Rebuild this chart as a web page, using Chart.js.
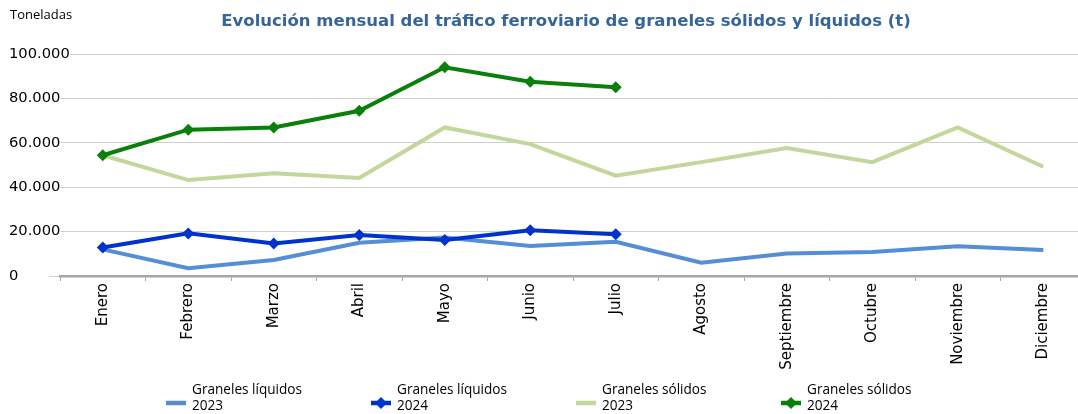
<!DOCTYPE html>
<html>
<head>
<meta charset="utf-8">
<script src="https://cdn.jsdelivr.net/npm/chart.js@4.4.1/dist/chart.umd.min.js"></script>
<style>
  html, body { margin: 0; padding: 0; background: #fff; }
  #wrap { width: 1078px; height: 414px; overflow: hidden; }
  #box { width: 1092px; height: 414px; position: relative; }
</style>
</head>
<body>
<div id="wrap"><div id="box"><canvas id="trafico"></canvas></div></div>
<script>
const meses = ['Enero', 'Febrero', 'Marzo', 'Abril', 'Mayo', 'Junio', 'Julio',
  'Agosto', 'Septiembre', 'Octubre', 'Noviembre', 'Diciembre'];

// toneladas por mes
const liquidos2023 = [12000, 3500, 7200, 15000, 17300, 13500, 15400, 6000, 10100, 10800, 13400, 11700];
const liquidos2024 = [12800, 19200, 14600, 18500, 16200, 20600, 18800];
const solidos2023 = [54400, 43200, 46300, 44200, 66900, 59400, 45200, 51300, 57700, 51300, 66900, 49200];
const solidos2024 = [54400, 65900, 66900, 74400, 94000, 87500, 85000];

const yTicks = [0, 20000, 40000, 60000, 80000, 100000];
const series = ['Graneles líquidos 2023', 'Graneles líquidos 2024', 'Graneles sólidos 2023', 'Graneles sólidos 2024'];

const titulo = 'Evolución mensual del tráfico ferroviario de graneles sólidos y líquidos (t)';
const unidad = 'Toneladas';

const miles = v => String(v).replace(/\B(?=(\d{3})+(?!\d))/g, '.');

// titulo, unidad y leyenda dibujados encima del grafico
const textos = {
  id: 'textos',
  afterDraw(chart) {
    const ctx = chart.ctx;
    ctx.save();
    ctx.fillStyle = '#36659a';
    ctx.font = 'bold 16.5px "DejaVu Sans"';
    ctx.textAlign = 'center';
    ctx.textBaseline = 'middle';
    ctx.fillText(titulo, 566, 22);

    ctx.fillStyle = '#000';
    ctx.font = '13px "Open Sans"';
    ctx.textAlign = 'left';
    ctx.fillText(unidad, 10, 15);

    ctx.font = '13.6px "Open Sans"';
    chart.data.datasets.forEach((ds, i) => {
      const x = 166 + i * 205;
      const y = 403;
      ctx.strokeStyle = ds.borderColor;
      ctx.lineWidth = 4.5;
      ctx.beginPath();
      ctx.moveTo(x, y);
      ctx.lineTo(x + 20, y);
      ctx.stroke();
      if (ds.pointRadius > 0) {
        ctx.fillStyle = ds.borderColor;
        ctx.beginPath();
        ctx.moveTo(x + 10, y - 6);
        ctx.lineTo(x + 16, y);
        ctx.lineTo(x + 10, y + 6);
        ctx.lineTo(x + 4, y);
        ctx.closePath();
        ctx.fill();
      }
      const cut = ds.label.lastIndexOf(' ');
      ctx.fillStyle = '#000';
      ctx.fillText(ds.label.slice(0, cut), x + 26, 390);
      ctx.fillText(ds.label.slice(cut + 1), x + 26, 406);
    });
    ctx.restore();
  }
};

const linea = (label, data, color, marcas, orden) => ({
  label: label,
  data: data,
  borderColor: color,
  backgroundColor: color,
  borderWidth: 4,
  pointStyle: 'rectRot',
  pointRadius: marcas ? 6 : 0,
  pointHoverRadius: marcas ? 6 : 0,
  pointBorderWidth: 0,
  tension: 0,
  order: orden
});

new Chart(document.getElementById('trafico'), {
  type: 'line',
  data: {
    labels: meses,
    datasets: [
      linea(series[0], liquidos2023, '#558ed5', false, 1),
      linea(series[1], liquidos2024, '#0033cc', true, 0),
      linea(series[2], solidos2023, '#c3d69b', false, 1),
      linea(series[3], solidos2024, '#0a800a', true, 0)
    ]
  },
  options: {
    responsive: true,
    maintainAspectRatio: false,
    animation: false,
    layout: { padding: { top: 54, left: 11, right: 4, bottom: 40 } },
    plugins: {
      legend: { display: false },
      title: { display: false },
      tooltip: { enabled: false }
    },
    scales: {
      x: {
        offset: true,
        grid: {
          offset: true,
          drawOnChartArea: false,
          drawTicks: true,
          tickLength: 5,
          color: '#a6a6a6'
        },
        border: { color: '#a6a6a6', width: 2.5 },
        ticks: {
          minRotation: 90,
          maxRotation: 90,
          padding: 2,
          color: '#000',
          font: { family: 'DejaVu Sans', size: 15 }
        },
        afterFit(scale) { scale.height = 98; }
      },
      y: {
        min: 0,
        max: 100000,
        afterBuildTicks(scale) { scale.ticks = yTicks.map(v => ({ value: v })); },
        grid: { color: '#cfcfcf', lineWidth: 1, tickLength: 11 },
        border: { display: false },
        ticks: {
          mirror: true,
          crossAlign: 'near',
          padding: -51,
          color: '#000',
          showLabelBackdrop: true,
          backdropColor: '#fff',
          backdropPadding: 0,
          font: { family: 'DejaVu Sans', size: 14.7 },
          callback: v => miles(v)
        },
        afterFit(scale) { scale.width = 49; }
      }
    }
  },
  plugins: [textos]
});
</script>
</body>
</html>
